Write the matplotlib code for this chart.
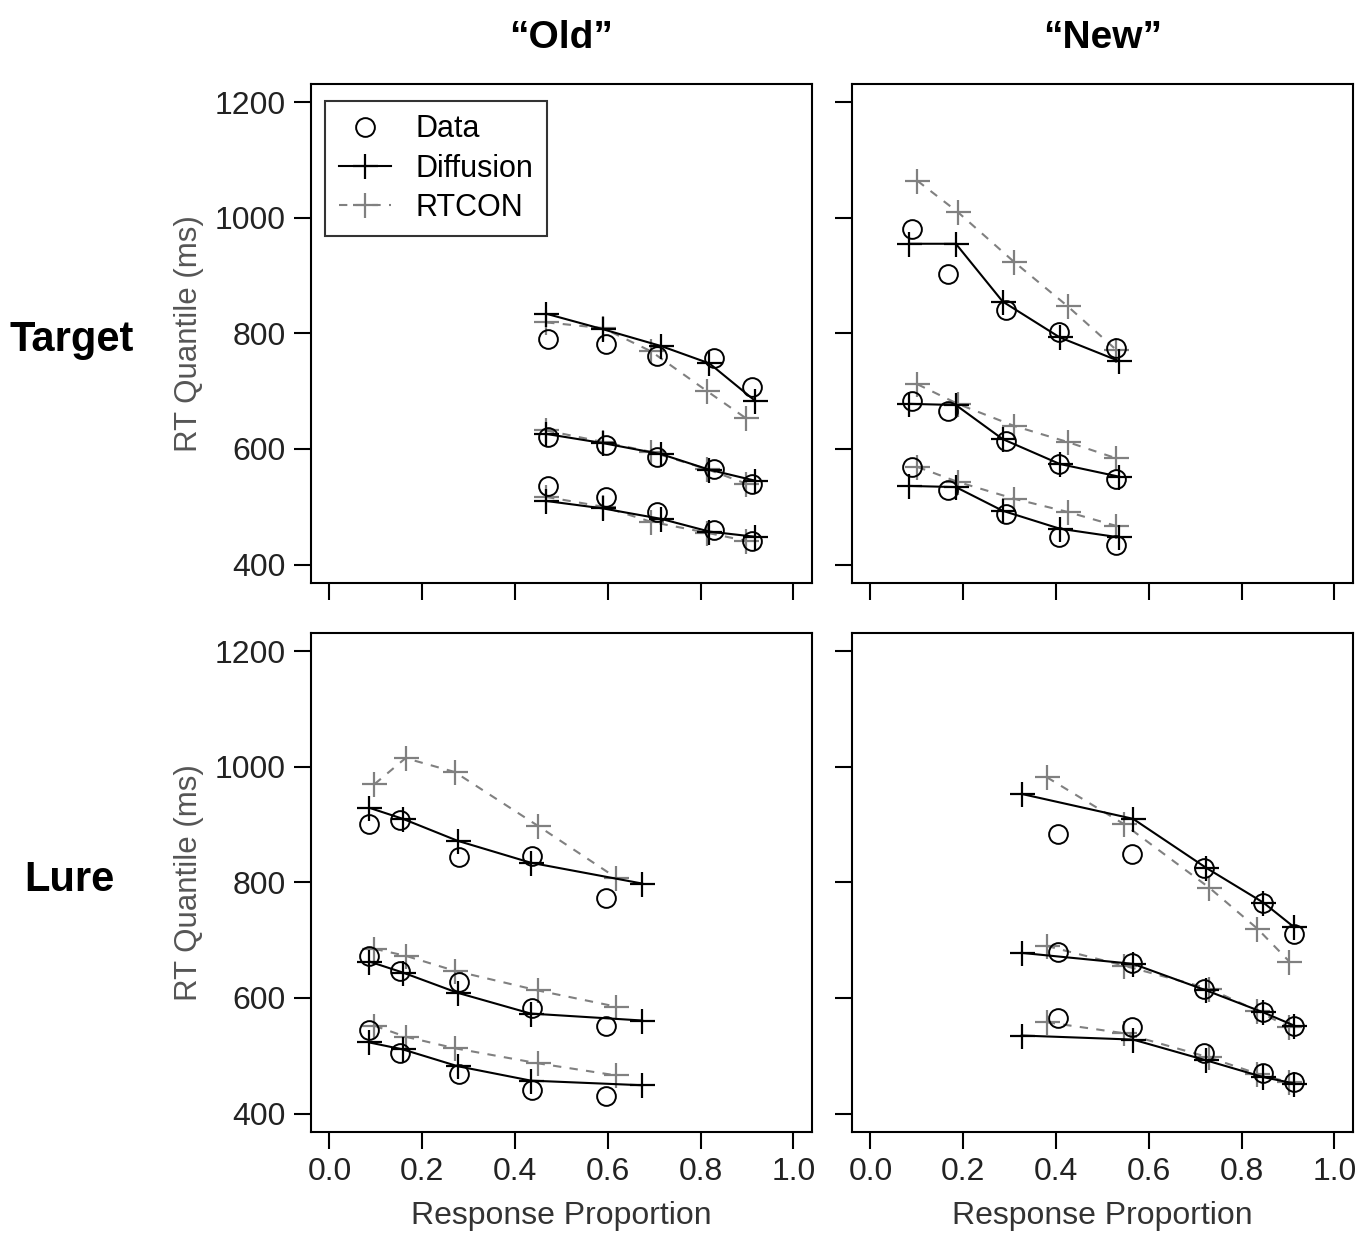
import matplotlib
matplotlib.use("Agg")
from matplotlib import pyplot as plt
from matplotlib.lines import Line2D

plt.rcParams['font.family'] = ['Liberation Sans', 'DejaVu Sans']

# response proportions (x) and RT quantiles (.1, .5, .9) in ms (y)
# Target / "Old"
tgt_old_data_x = [0.471, 0.596, 0.706, 0.829, 0.911]
tgt_old_data_y = [[536, 517, 491, 459, 440], [621, 607, 586, 566, 540], [790, 781, 760, 757, 707]]
tgt_old_diff_x = [0.467, 0.590, 0.715, 0.819, 0.918]
tgt_old_diff_y = [[510, 497, 479, 457, 448], [626, 610, 591, 564, 545], [834, 807, 778, 748, 683]]
tgt_old_rtcon_x = [0.467, 0.590, 0.693, 0.814, 0.898]
tgt_old_rtcon_y = [[517, 500, 474, 455, 441], [632, 612, 595, 565, 540], [819, 809, 769, 700, 653]]

# Target / "New"
tgt_new_data_x = [0.089, 0.168, 0.292, 0.406, 0.529]
tgt_new_data_y = [[569, 529, 488, 448, 433], [683, 666, 614, 574, 548], [981, 902, 840, 802, 774]]
tgt_new_diff_x = [0.084, 0.184, 0.285, 0.408, 0.536]
tgt_new_diff_y = [[536, 534, 493, 462, 447], [678, 676, 617, 574, 552], [955, 955, 855, 793, 752]]
tgt_new_rtcon_x = [0.101, 0.188, 0.309, 0.425, 0.529]
tgt_new_rtcon_y = [[569, 543, 514, 491, 467], [712, 678, 640, 612, 584], [1064, 1010, 924, 847, 772]]

# Lure / "Old"
lure_old_data_x = [0.086, 0.153, 0.279, 0.436, 0.596]
lure_old_data_y = [[545, 504, 469, 440, 430], [673, 647, 627, 583, 552], [901, 908, 844, 846, 773]]
lure_old_diff_x = [0.086, 0.158, 0.276, 0.434, 0.674]
lure_old_diff_y = [[523, 511, 482, 457, 449], [663, 644, 609, 573, 561], [929, 910, 872, 834, 798]]
lure_old_rtcon_x = [0.097, 0.164, 0.270, 0.449, 0.618]
lure_old_rtcon_y = [[552, 533, 513, 487, 466], [685, 673, 647, 613, 585], [970, 1015, 991, 898, 808]]

# Lure / "New"
lure_new_data_x = [0.404, 0.564, 0.719, 0.847, 0.914]
lure_new_data_y = [[566, 549, 504, 471, 454], [680, 661, 616, 575, 551], [884, 849, 825, 765, 711]]
lure_new_diff_x = [0.326, 0.566, 0.724, 0.847, 0.914]
lure_new_diff_y = [[535, 528, 492, 463, 452], [678, 659, 613, 575, 552], [953, 910, 825, 765, 722]]
lure_new_rtcon_x = [0.380, 0.546, 0.730, 0.834, 0.903]
lure_new_rtcon_y = [[558, 539, 497, 469, 454], [690, 656, 616, 578, 549], [982, 901, 791, 720, 663]]

col_titles = ["\u201cOld\u201d", "\u201cNew\u201d"]
row_titles = ["Target", "Lure"]
x_ticks = [0.0, 0.2, 0.4, 0.6, 0.8, 1.0]
y_ticks = [400, 600, 800, 1000, 1200]

GRAY = "#808080"

fig = plt.figure(figsize=(13.71, 12.36), dpi=100)

# axes rectangles (left, bottom, width, height) in figure fraction
lefts = [0.2268, 0.6214]
bottoms = [0.5283, 0.0841]
w, h = 0.3654, 0.4040

panels = [
    [(tgt_old_data_x, tgt_old_data_y, tgt_old_diff_x, tgt_old_diff_y, tgt_old_rtcon_x, tgt_old_rtcon_y),
     (tgt_new_data_x, tgt_new_data_y, tgt_new_diff_x, tgt_new_diff_y, tgt_new_rtcon_x, tgt_new_rtcon_y)],
    [(lure_old_data_x, lure_old_data_y, lure_old_diff_x, lure_old_diff_y, lure_old_rtcon_x, lure_old_rtcon_y),
     (lure_new_data_x, lure_new_data_y, lure_new_diff_x, lure_new_diff_y, lure_new_rtcon_x, lure_new_rtcon_y)],
]

for r in range(2):
    for c in range(2):
        ax = fig.add_axes([lefts[c], bottoms[r], w, h])
        dx, dy, fx, fy, rx, ry = panels[r][c]

        for q in range(3):
            # RTCON fits (gray dashed)
            ax.plot(rx, ry[q], linestyle=(0, (4, 4)), color=GRAY, lw=1.5,
                    marker="+", ms=18, mew=1.6, mec=GRAY)
            # diffusion fits (black solid)
            ax.plot(fx, fy[q], linestyle="-", color="black", lw=1.5,
                    marker="+", ms=18, mew=1.6)
            # data (open circles)
            ax.plot(dx, dy[q], linestyle="none", marker="o", ms=13.5,
                    mfc="none", mec="black", mew=1.4)

        ax.set_xlim(-0.04, 1.04)
        ax.set_ylim(368, 1232)
        ax.set_xticks(x_ticks)
        ax.set_yticks(y_ticks)
        ax.tick_params(direction="out", length=12, width=1.5, labelsize=23,
                       labelcolor="#222222", pad=6)
        for s in ax.spines.values():
            s.set_linewidth(1.5)

        if r == 1:
            ax.set_xticklabels(["%.1f" % t for t in x_ticks])
            ax.set_xlabel("Response Proportion", fontsize=23, color="#333333", labelpad=10)
        else:
            ax.set_xticklabels([])
        if c == 0:
            ax.set_yticklabels([str(t) for t in y_ticks])
            ax.set_ylabel("RT Quantile (ms)", fontsize=22.5, color="#555555", labelpad=8)
        else:
            ax.set_yticklabels([])

        if r == 0:
            ax.set_title(col_titles[c], fontsize=28, fontweight="bold", pad=26)

        if r == 0 and c == 0:
            handles = [
                Line2D([], [], linestyle="none", marker="o", ms=13.5, mfc="none", mec="black", mew=1.4),
                Line2D([], [], linestyle="-", color="black", lw=1.5, marker="+", ms=18, mew=1.6),
                Line2D([], [], linestyle=(0, (4, 4)), color=GRAY, lw=1.5, marker="+", ms=18, mew=1.6),
            ]
            leg = ax.legend(handles, ["Data", "Diffusion", "RTCON"], loc="upper left",
                            bbox_to_anchor=(0.028, 0.966), borderaxespad=0, fontsize=22,
                            frameon=True, fancybox=False, handlelength=1.7,
                            labelspacing=0.3, borderpad=0.45, handletextpad=0.8)
            leg.get_frame().set_edgecolor("black")
            leg.get_frame().set_linewidth(1.5)

# row labels
fig.text(72 / 1371, 1 - 340 / 1236, row_titles[0], fontsize=30, fontweight="bold",
         ha="center", va="center")
fig.text(69 / 1371, 1 - 880 / 1236, row_titles[1], fontsize=30, fontweight="bold",
         ha="center", va="center")

fig.savefig("out.png", dpi=100)
